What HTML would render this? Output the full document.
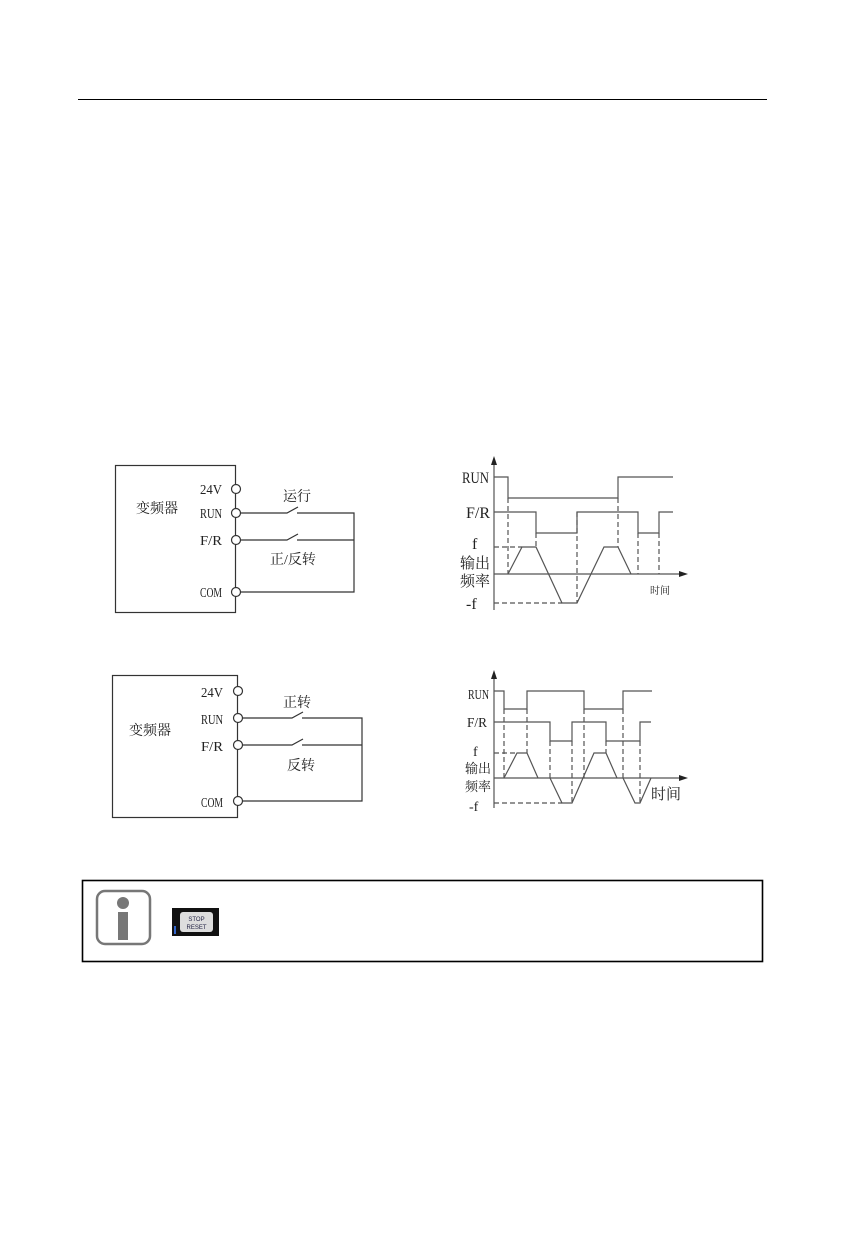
<!DOCTYPE html>
<html><head><meta charset="utf-8"><style>
body{margin:0;background:#fff;}
svg text{font-family:"Liberation Serif","Noto Serif CJK SC",serif;fill:#222;}
</style></head><body>
<svg width="845" height="1240" xmlns="http://www.w3.org/2000/svg">
<line x1="78" y1="99.5" x2="767" y2="99.5" stroke="#000" stroke-width="1"/>
<g stroke="#333" stroke-width="1.2" fill="none">
<rect x="115.5" y="465.5" width="120" height="147"/>
<circle cx="236" cy="489" r="4.5" fill="#fff"/>
<circle cx="236" cy="513" r="4.5" fill="#fff"/>
<circle cx="236" cy="540" r="4.5" fill="#fff"/>
<circle cx="236" cy="592" r="4.5" fill="#fff"/>
<polyline points="240.5,513 287,513 298,507"/>
<polyline points="297,513 354,513 354,592 240.5,592"/>
<polyline points="240.5,540 287,540 298,534"/>
<line x1="297" y1="540" x2="354" y2="540"/>
<rect x="112.5" y="675.5" width="125" height="142"/>
<circle cx="238" cy="691" r="4.5" fill="#fff"/>
<circle cx="238" cy="718" r="4.5" fill="#fff"/>
<circle cx="238" cy="745" r="4.5" fill="#fff"/>
<circle cx="238" cy="801" r="4.5" fill="#fff"/>
<polyline points="242.5,718 292,718 303,712"/>
<polyline points="302,718 362,718 362,801 242.5,801"/>
<polyline points="242.5,745 292,745 303,739"/>
<line x1="302" y1="745" x2="362" y2="745"/>
</g>
<g font-size="14">
<text x="200" y="494" textLength="22" lengthAdjust="spacingAndGlyphs">24V</text>
<text x="200" y="518" textLength="22" lengthAdjust="spacingAndGlyphs">RUN</text>
<text x="200" y="545" textLength="22" lengthAdjust="spacingAndGlyphs">F/R</text>
<text x="200" y="597" textLength="22" lengthAdjust="spacingAndGlyphs">COM</text>
<text x="157" y="513" text-anchor="middle">变频器</text>
<text x="283" y="501">运行</text>
<text x="270" y="564">正/反转</text>
<text x="201" y="697" textLength="22" lengthAdjust="spacingAndGlyphs">24V</text>
<text x="201" y="724" textLength="22" lengthAdjust="spacingAndGlyphs">RUN</text>
<text x="201" y="751" textLength="22" lengthAdjust="spacingAndGlyphs">F/R</text>
<text x="201" y="807" textLength="22" lengthAdjust="spacingAndGlyphs">COM</text>
<text x="150" y="735" text-anchor="middle">变频器</text>
<text x="283" y="707">正转</text>
<text x="287" y="770">反转</text>
</g>
<g stroke="#555" stroke-width="1.2" fill="none">
<line x1="494" y1="462" x2="494" y2="610"/>
<line x1="494" y1="574" x2="680" y2="574"/>
<polyline points="494,477 508,477 508,498 618,498 618,477 673,477"/>
<polyline points="494,512 536,512 536,533 577,533 577,512 638,512 638,533 659,533 659,512 673,512"/>
<polyline points="508,574 522,547 536,547 562,603 577,603 604,547 618,547 631,574"/>
<g stroke-dasharray="5,3">
<line x1="494" y1="547" x2="522" y2="547"/>
<line x1="494" y1="603" x2="562" y2="603"/>
<line x1="508" y1="498" x2="508" y2="574"/>
<line x1="536" y1="533" x2="536" y2="547"/>
<line x1="577" y1="512" x2="577" y2="603"/>
<line x1="618" y1="498" x2="618" y2="547"/>
<line x1="638" y1="533" x2="638" y2="574"/>
<line x1="659" y1="533" x2="659" y2="574"/>
</g>
</g>
<polygon points="494,456 491,465 497,465" fill="#222"/>
<polygon points="688,574 679,571 679,577" fill="#222"/>
<g font-size="16">
<text x="462" y="483" textLength="27" lengthAdjust="spacingAndGlyphs">RUN</text>
<text x="466" y="518" textLength="24" lengthAdjust="spacingAndGlyphs">F/R</text>
<text x="472" y="549">f</text>
<text x="460" y="568" font-size="15">输出</text>
<text x="460" y="586" font-size="15">频率</text>
<text x="466" y="609">-f</text>
<text x="650" y="594" font-size="10">时间</text>
</g>
<g stroke="#555" stroke-width="1.2" fill="none">
<line x1="494" y1="676" x2="494" y2="808"/>
<line x1="494" y1="778" x2="680" y2="778"/>
<polyline points="494,691 504,691 504,709 527,709 527,691 584,691 584,709 623,709 623,691 652,691"/>
<polyline points="494,722 550,722 550,741 572,741 572,722 606,722 606,741 640,741 640,722 651,722"/>
<polyline points="504,778 517,753 527,753 538,778"/>
<polyline points="550,778 562,803 572,803 594,753 606,753 617,778"/>
<polyline points="623,778 635,803 640,803 651,778"/>
<g stroke-dasharray="5,3">
<line x1="494" y1="753" x2="517" y2="753"/>
<line x1="494" y1="803" x2="562" y2="803"/>
<line x1="504" y1="709" x2="504" y2="778"/>
<line x1="527" y1="709" x2="527" y2="753"/>
<line x1="550" y1="741" x2="550" y2="778"/>
<line x1="572" y1="741" x2="572" y2="803"/>
<line x1="584" y1="709" x2="584" y2="778"/>
<line x1="606" y1="741" x2="606" y2="753"/>
<line x1="623" y1="709" x2="623" y2="778"/>
<line x1="640" y1="741" x2="640" y2="803"/>
</g>
</g>
<polygon points="494,670 491,679 497,679" fill="#222"/>
<polygon points="688,778 679,775 679,781" fill="#222"/>
<g font-size="14">
<text x="468" y="699" textLength="21" lengthAdjust="spacingAndGlyphs">RUN</text>
<text x="467" y="727" textLength="20" lengthAdjust="spacingAndGlyphs">F/R</text>
<text x="473" y="756">f</text>
<text x="465" y="773" font-size="13">输出</text>
<text x="465" y="791" font-size="13">频率</text>
<text x="469" y="811">-f</text>
<text x="651" y="799" font-size="15">时间</text>
</g>
<rect x="82.5" y="880.5" width="680" height="81" fill="none" stroke="#000" stroke-width="1.6"/>
<rect x="97" y="891" width="53" height="53" rx="8" fill="#fff" stroke="#777" stroke-width="2.5"/>
<circle cx="123" cy="903" r="6" fill="#777"/>
<rect x="118" y="912" width="10" height="28" fill="#777"/>
<rect x="172" y="908" width="47" height="28" fill="#111"/>
<rect x="180" y="912" width="33" height="20" rx="3" fill="#ddd"/>
<text x="196.5" y="921" font-size="6" text-anchor="middle" style="font-family:'Liberation Sans',sans-serif;fill:#224">STOP</text>
<text x="196.5" y="929" font-size="6" text-anchor="middle" style="font-family:'Liberation Sans',sans-serif;fill:#224">RESET</text>
<rect x="174" y="926" width="2" height="8" fill="#36c"/>
</svg>
</body></html>
